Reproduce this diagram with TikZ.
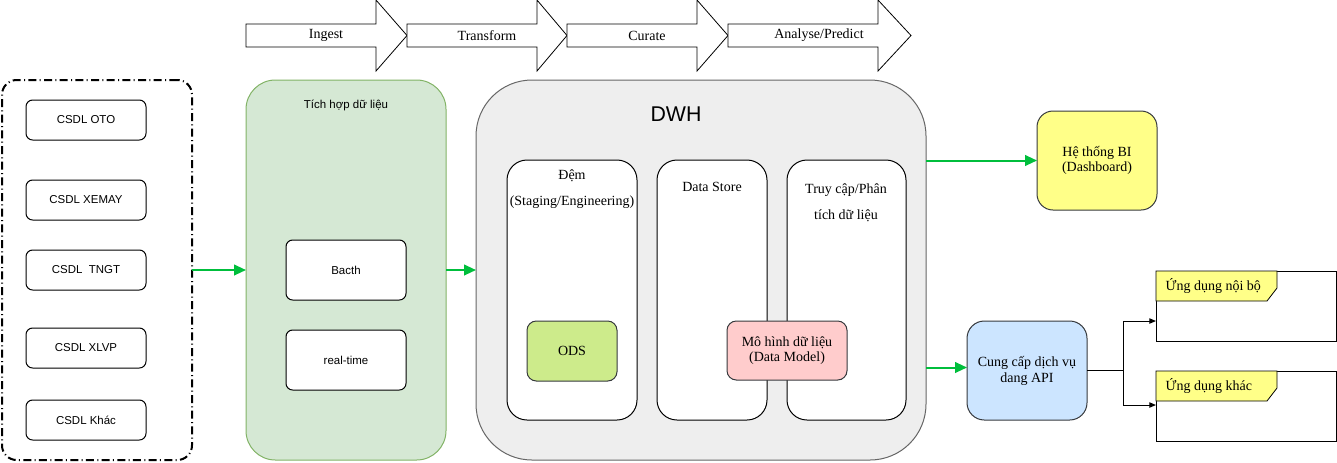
\documentclass[tikz,border=0pt]{standalone}
\usepackage{fontspec}
\setmainfont{Liberation Serif}
\newfontfamily\arialf{Liberation Sans}
\usetikzlibrary{calc,arrows.meta}
\definecolor{grn}{RGB}{0,190,60}
\definecolor{gbfill}{HTML}{D5E8D4}
\definecolor{gbline}{HTML}{82B366}
\definecolor{dwhfill}{HTML}{EEEEEE}
\definecolor{dwhline}{HTML}{666666}
\definecolor{odsfill}{HTML}{CDEB8B}
\definecolor{dmfill}{HTML}{FFCCCC}
\definecolor{bifill}{HTML}{FFFF88}
\definecolor{apifill}{HTML}{CCE5FF}
\definecolor{dk}{HTML}{36393D}
\begin{document}
\begin{tikzpicture}[x=0.75pt,y=-0.75pt,
  box/.style={draw, inner sep=0pt, outer sep=0pt, anchor=north west, line width=0.75pt},
  sanstxt/.style={font=\arialf\fontsize{8.6}{10}\selectfont},
  sertxt/.style={font=\fontsize{10.5}{13}\selectfont},
  srcbox/.style={box, rounded corners=5pt, fill=white, minimum width=90pt, minimum height=30pt, sanstxt},
  midbox/.style={box, rounded corners=5pt, fill=white, minimum width=90pt, minimum height=45pt, sanstxt},
  innerbox/.style={box, rounded corners=15pt, fill=white, minimum height=195pt},
  colbox/.style={box, draw=dk, align=center, sertxt},
  garrow/.style={draw=grn, line width=1.5pt, -{Triangle[length=9pt,width=8pt]}},
  karrow/.style={draw=black, line width=0.75pt, -{Triangle[length=5pt,width=4pt]}},
  pipe/.style={draw=black, fill=white, line width=0.6pt},
  tag/.style={draw=black, fill=bifill, line width=0.6pt}
]
\useasboundingbox (0,0) rectangle (1337,462);

% pipeline arrows
\draw[pipe] (246,24) -- (376,24) -- (376,0) -- (407,35.5) -- (376,71) -- (376,47) -- (246,47) -- cycle;
\node[sertxt] (ingest) at (326,35.5) {Ingest};
\draw[pipe] (407,24) -- (537,24) -- (537,0) -- (567,35.5) -- (537,71) -- (537,47) -- (407,47) -- cycle;
\node[sertxt] (transform) at (487,35.5) {Transform};
\draw[pipe] (567,24) -- (697,24) -- (697,0) -- (728,35.5) -- (697,71) -- (697,47) -- (567,47) -- cycle;
\node[sertxt] (curate) at (647,35.5) {Curate};
\draw[pipe] (728,24) -- (878,24) -- (878,0) -- (911,35.5) -- (878,71) -- (878,47) -- (728,47) -- cycle;
\node[sertxt] (analyse) at (819,35.5) {Analyse/Predict};

% sources
\node[box, line width=1.5pt, rounded corners=11pt, minimum width=142.5pt, minimum height=285pt,
  dash pattern=on 6pt off 2.5pt on 0.75pt off 2.5pt] (srcs) at (2,80) {};
\node[srcbox] (oto) at (26,100) {CSDL OTO};
\node[srcbox] (xemay) at (26,180) {CSDL XEMAY};
\node[srcbox] (tngt) at (26,250) {CSDL\ \ TNGT};
\node[srcbox] (xlvp) at (26,328) {CSDL XLVP};
\node[srcbox] (khac) at (26,400) {CSDL Khác};

% integration
\node[box, draw=gbline, fill=gbfill, rounded corners=22pt, minimum width=150pt, minimum height=285pt] (integ) at (246,80) {};
\node[sanstxt] (integlbl) at (346,105) {Tích hợp dữ liệu};
\node[midbox] (bacth) at (286,240) {Bacth};
\node[midbox] (rt) at (286,330) {real-time};

% DWH
\node[box, draw=dwhline, fill=dwhfill, rounded corners=42pt, minimum width=337.5pt, minimum height=285pt] (dwh) at (476,80) {};
\node[font=\arialf\fontsize{16}{18}\selectfont] (dwhlbl) at (676,114) {DWH};
\node[innerbox, minimum width=97.5pt] (dem) at (507,160) {};
\node[sertxt] (deml1) at (572,176) {Đệm};
\node[sertxt] (deml2) at (572,202) {(Staging/Engineering)};
\node[innerbox, minimum width=82.5pt] (ds) at (657,160) {};
\node[sertxt] (dsl) at (712,187) {Data Store};
\node[innerbox, minimum width=89.25pt] (tc) at (787,160) {};
\node[sertxt] (tcl1) at (846,190) {Truy cập/Phân};
\node[sertxt] (tcl2) at (846,216) {tích dữ liệu};
\node[colbox, fill=odsfill, rounded corners=7pt, minimum width=67.5pt, minimum height=45pt] (ods) at (527,321) {ODS};
\node[colbox, fill=dmfill, rounded corners=7pt, minimum width=90pt, minimum height=44.25pt] (dm) at (727,321) {Mô hình dữ liệu\\[-2pt](Data Model)};

% outputs
\node[colbox, fill=bifill, rounded corners=12pt, minimum width=90pt, minimum height=74.25pt] (bi) at (1037,111) {Hệ thống BI\\[-2pt](Dashboard)};
\node[colbox, fill=apifill, rounded corners=13pt, minimum width=90pt, minimum height=74.25pt] (api) at (967,321) {Cung cấp dịch vụ\\[-1pt]dang API};

\node[box, minimum width=135pt, minimum height=52.5pt, line width=0.6pt] (app1) at (1156,271) {};
\draw[tag] (app1.north west) -- ++(121,0) -- ++(0,17) -- ++(-10,13) -- ++(-111,0) -- cycle;
\node[sertxt, anchor=west] (app1l) at (1161,286) {Ứng dụng nội bộ};
\node[box, minimum width=135pt, minimum height=52.5pt, line width=0.6pt] (app2) at (1156,371) {};
\draw[tag] (app2.north west) -- ++(121,0) -- ++(0,17) -- ++(-10,13) -- ++(-111,0) -- cycle;
\node[sertxt, anchor=west] (app2l) at (1161,386) {Ứng dụng khác};

% connectors
\draw[garrow] (srcs.east) -- (integ.west);
\draw[garrow] (integ.east) -- (dwh.west);
\draw[garrow] (dwh.east |- bi.west) -- (bi.west);
\coordinate (apiin) at ($(api.west)+(0,-3)$);
\draw[garrow] (dwh.east |- apiin) -- (apiin);
\coordinate (split) at ($(api.east)+(36,0)$);
\coordinate (a1in) at ($(app1.north west)+(0,50)$);
\coordinate (a2in) at ($(app2.north west)+(0,34)$);
\draw[line width=1.2pt] (api.east) -- (split);
\draw[karrow] (split) |- (a1in);
\draw[karrow] (split) |- (a2in);
\end{tikzpicture}
\end{document}
